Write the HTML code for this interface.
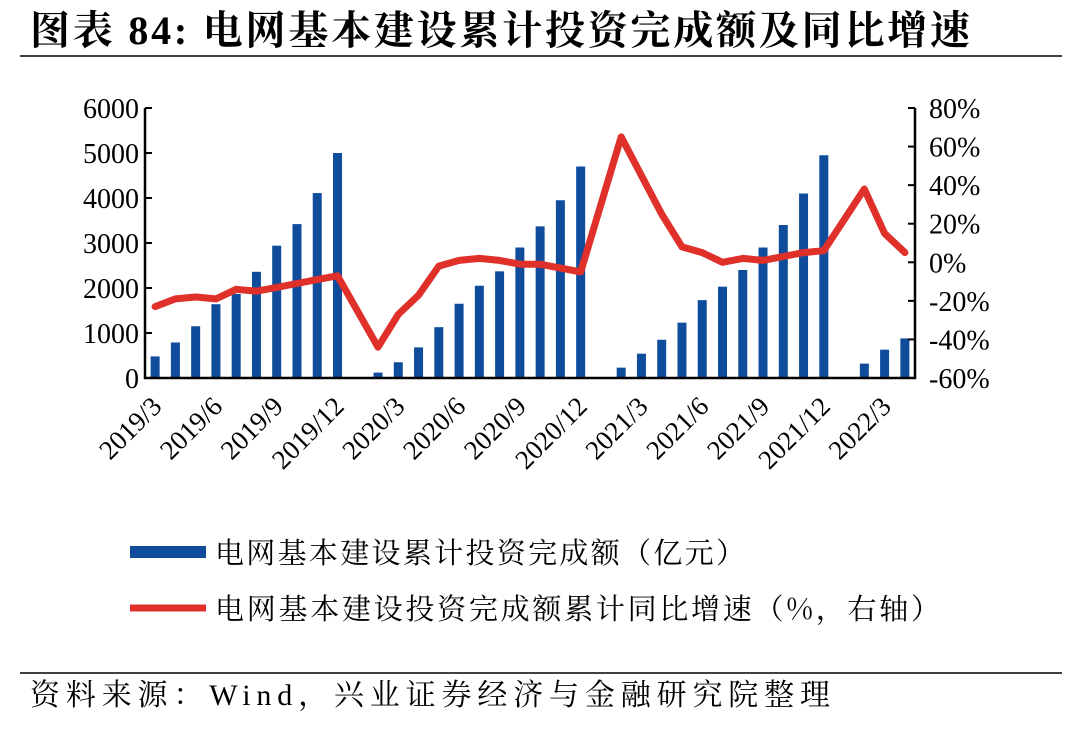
<!DOCTYPE html>
<html><head><meta charset="utf-8"><style>
body{margin:0;background:#fff;width:1080px;height:728px;overflow:hidden;font-family:"Liberation Serif","Noto Serif CJK SC",serif;}
</style></head><body>
<svg width="1080" height="728" xmlns="http://www.w3.org/2000/svg">
<text x="30" y="44" font-size="40" font-weight="bold" textLength="940" lengthAdjust="spacing" font-family="Liberation Serif, Noto Serif CJK SC, serif">图表 84:  电网基本建设累计投资完成额及同比增速</text>
<line x1="20" y1="56" x2="1062" y2="56" stroke="#000" stroke-width="1.5"/>
<g id="plot"></g>
<g>
<rect x="130" y="546" width="76" height="12" fill="#0f4c9c"/>
<text x="215" y="563" font-size="29" textLength="530" lengthAdjust="spacing" font-family="Noto Serif CJK SC, serif">电网基本建设累计投资完成额（亿元）</text>
<line x1="130" y1="608" x2="206" y2="608" stroke="#e0302a" stroke-width="7"/>
<text x="215" y="619" font-size="29" textLength="725" lengthAdjust="spacing" font-family="Noto Serif CJK SC, serif">电网基本建设投资完成额累计同比增速（%，右轴）</text>
</g>
<line x1="20" y1="673" x2="1062" y2="673" stroke="#000" stroke-width="1.5"/>
<text x="30" y="705" font-size="30" textLength="800" lengthAdjust="spacing" font-family="Liberation Serif, Noto Serif CJK SC, serif">资料来源：Wind，兴业证券经济与金融研究院整理</text>
</svg>
<script>
const categories=["2019/3","2019/4","2019/5","2019/6","2019/7","2019/8","2019/9","2019/10","2019/11","2019/12","2020/1","2020/2","2020/3","2020/4","2020/5","2020/6","2020/7","2020/8","2020/9","2020/10","2020/11","2020/12","2021/1","2021/2","2021/3","2021/4","2021/5","2021/6","2021/7","2021/8","2021/9","2021/10","2021/11","2021/12","2022/1","2022/2","2022/3","2022/4"];
const investment=[480,790,1150,1640,1870,2360,2940,3420,4110,5000,null,120,350,680,1130,1650,2050,2370,2900,3370,3950,4700,null,230,540,850,1230,1730,2030,2400,2900,3400,4100,4950,null,320,630,880];
const growth=[-23,-19,-18,-19,-14,-15,-13,-11,-9,-7,null,-44,-27,-17,-2,1,2,1,-1,-1,-3,-5,null,65,45,25,8,5,0,2,1,3,5,6,null,38,15,5];
const leftTicks=[0,1000,2000,3000,4000,5000,6000];
const rightTicks=[-60,-40,-20,0,20,40,60,80];
const xLabels=["2019/3","2019/6","2019/9","2019/12","2020/3","2020/6","2020/9","2020/12","2021/3","2021/6","2021/9","2021/12","2022/3"];
const NS="http://www.w3.org/2000/svg";
const g=document.getElementById('plot');
const X0=145,X1=915,Y0=378,Y1=108;
const step=(X1-X0)/categories.length;
function xs(i){return X0+step*(i+0.5);}
function yl(v){return Y0-(v/6000)*(Y0-Y1);}
function yr(v){return Y0-((v+60)/140)*(Y0-Y1);}
function mk(t,a){const e=document.createElementNS(NS,t);for(const k in a)e.setAttribute(k,a[k]);g.appendChild(e);return e;}
investment.forEach((v,i)=>{if(v==null)return;
const r=mk('rect',{x:xs(i)-4.5,y:yl(v),width:9,height:Y0-yl(v),fill:'#0f4c9c'});

});
let d='';growth.forEach((v,i)=>{if(v==null)return;d+=(d?'L':'M')+xs(i).toFixed(1)+' '+yr(v).toFixed(1);});
const p=mk('path',{d:d,fill:'none',stroke:'#e0302a','stroke-width':7,'stroke-linejoin':'round','stroke-linecap':'round'});


const ax=mk('path',{d:`M${X0} ${Y1}V${Y0}H${X1}V${Y1}`,fill:'none',stroke:'#000','stroke-width':2.5});


leftTicks.forEach(v=>{mk('line',{x1:X0,x2:X0+7,y1:yl(v),y2:yl(v),stroke:'#000','stroke-width':2});
const t=mk('text',{x:X0-6,y:yl(v)+10,'text-anchor':'end','font-size':28});t.textContent=v;

});
rightTicks.forEach(v=>{mk('line',{x1:X1-7,x2:X1,y1:yr(v),y2:yr(v),stroke:'#000','stroke-width':2});
const t=mk('text',{x:X1+14,y:yr(v)+10,'font-size':28});t.textContent=v+'%';

});
xLabels.forEach(l=>{const i=categories.indexOf(l);const x=xs(i)+8,y=408;
const t=mk('text',{x:x,y:y,'text-anchor':'end','font-size':27,transform:`rotate(-45 ${x} ${y})`});t.textContent=l;

});
</script>
</body></html>
